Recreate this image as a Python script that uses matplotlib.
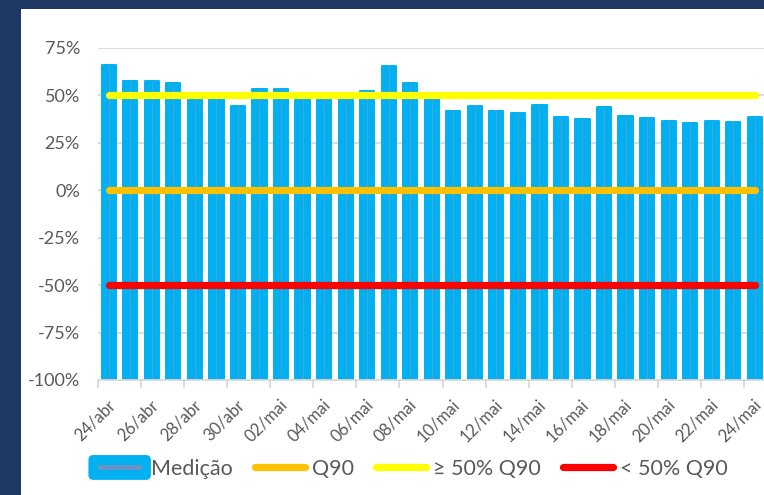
import matplotlib
matplotlib.use("Agg")
import matplotlib.pyplot as plt
import matplotlib.transforms as mtransforms
from matplotlib.patches import Rectangle, FancyBboxPatch
from matplotlib.lines import Line2D
from matplotlib.legend_handler import HandlerBase
import numpy as np

# ---- data ----
dates = ["24/abr", "25/abr", "26/abr", "27/abr", "28/abr", "29/abr", "30/abr",
         "01/mai", "02/mai", "03/mai", "04/mai", "05/mai", "06/mai", "07/mai",
         "08/mai", "09/mai", "10/mai", "11/mai", "12/mai", "13/mai", "14/mai",
         "15/mai", "16/mai", "17/mai", "18/mai", "19/mai", "20/mai", "21/mai",
         "22/mai", "23/mai", "24/mai"]
medicao = [66, 57.6, 57.6, 56.4, 49, 48, 44.4, 53.4, 53.6, 49, 48.5, 48, 52.3,
           65.5, 56.4, 49, 41.8, 44.3, 41.6, 40.9, 44.8, 38.8, 37.4, 43.9,
           39.2, 38.3, 36.7, 35.3, 36.7, 35.8, 38.6]
q90 = 0
q90_50_above = 50
q90_50_below = -50
yticks = [75, 50, 25, 0, -25, -50, -75, -100]
ytick_labels = ["75%", "50%", "25%", "0%", "-25%", "-50%", "-75%", "-100%"]
legend_labels = ["Medição", "Q90", "≥ 50% Q90", "< 50% Q90"]

# ---- style ----
plt.rcParams['font.family'] = ['Lato', 'DejaVu Sans']
TXT = "#595959"
BLUE = "#00B0F0"
NAVY = "#203864"
GRID = "#D9D9D9"

fig = plt.figure(figsize=(7.64, 4.95), dpi=100)
fig.patch.set_facecolor(NAVY)
panel = Rectangle((21 / 764, 0), 1 - 21 / 764, 1 - 9 / 495,
                  transform=fig.transFigure, facecolor="white",
                  edgecolor="none", zorder=-10)
fig.add_artist(panel)

ax = fig.add_axes([98 / 764, 1 - 380 / 495, 1 - 98 / 764 + 0.002, (380 - 48) / 495])
ax.set_facecolor("none")
ax.set_zorder(1)

n = len(dates)
x = np.arange(n)
base = -100
heights = [v - base for v in medicao]
ax.bar(x, heights, bottom=base, width=0.66, color=BLUE, edgecolor=BLUE,
       linewidth=1.4, joinstyle="round", zorder=2)
ax.vlines(x, base, medicao, color="#7A9CC6", linewidth=0.6, alpha=0.8, zorder=3)

xs = [x[0], x[-1]]
ax.plot(xs, [q90, q90], color="#FFC000", lw=5.2, solid_capstyle="round", zorder=4)
ax.plot(xs, [q90_50_above] * 2, color="#FFFF00", lw=5.2, solid_capstyle="round", zorder=4)
ax.plot(xs, [q90_50_below] * 2, color="#FF0000", lw=5.2, solid_capstyle="round", zorder=4)

ax.set_xlim(-0.5, n - 0.5)
ax.set_ylim(-100, 75)
ax.set_yticks(yticks)
ax.set_yticklabels(ytick_labels)
ax.yaxis.grid(True, color=GRID, linewidth=1.3, zorder=1)
ax.set_axisbelow(True)
ax.tick_params(axis="y", length=0, pad=13, labelsize=13, labelcolor=TXT)

for s in ["top", "right", "left"]:
    ax.spines[s].set_visible(False)
ax.spines["bottom"].set_color(GRID)
ax.spines["bottom"].set_linewidth(1.3)
ax.spines["bottom"].set_zorder(5)

ax.set_xticks(np.arange(-0.5, n, 2))
ax.set_xticklabels([])
ax.tick_params(axis="x", which="major", length=6, width=1.3, color=GRID)
ax.set_xticks(x[::2], minor=True)
ax.set_xticklabels(dates[::2], minor=True, rotation=45, ha="right",
                   rotation_mode="anchor", fontsize=12, color=TXT)
ax.tick_params(axis="x", which="minor", length=0, pad=12)
offset = mtransforms.ScaledTranslation(-2 / 100, 0, fig.dpi_scale_trans)
for lab in ax.get_xticklabels(minor=True):
    lab.set_transform(lab.get_transform() + offset)


class BarHandler(HandlerBase):
    def create_artists(self, legend, orig_handle, xdescent, ydescent, width,
                       height, fontsize, trans):
        ext = 4
        box = FancyBboxPatch((-xdescent - ext, -ydescent - 3), width + 2 * ext,
                             height + 6, boxstyle="round,pad=0,rounding_size=3",
                             facecolor=BLUE, edgecolor=BLUE, transform=trans)
        yc = -ydescent + height / 2
        ln = Line2D([-xdescent + 4, -xdescent + width - 4], [yc, yc],
                    color="#6A93C8", lw=3.5, transform=trans)
        return [box, ln]


h_bar = Rectangle((0, 0), 1, 1)
h_q90 = Line2D([], [], color="#FFC000", lw=5.2, solid_capstyle="round")
h_a = Line2D([], [], color="#FFFF00", lw=5.2, solid_capstyle="round")
h_b = Line2D([], [], color="#FF0000", lw=5.2, solid_capstyle="round")
leg = fig.legend([h_bar, h_q90, h_a, h_b], legend_labels, loc="center",
                 bbox_to_anchor=(411 / 764, 1 - 469 / 495), ncol=4, frameon=False,
                 fontsize=15.5, handlelength=2.32, handletextpad=0.3,
                 columnspacing=1.05, handler_map={Rectangle: BarHandler()})
for t in leg.get_texts():
    t.set_color(TXT)

fig.savefig("out.png", dpi=100, facecolor=fig.get_facecolor())
